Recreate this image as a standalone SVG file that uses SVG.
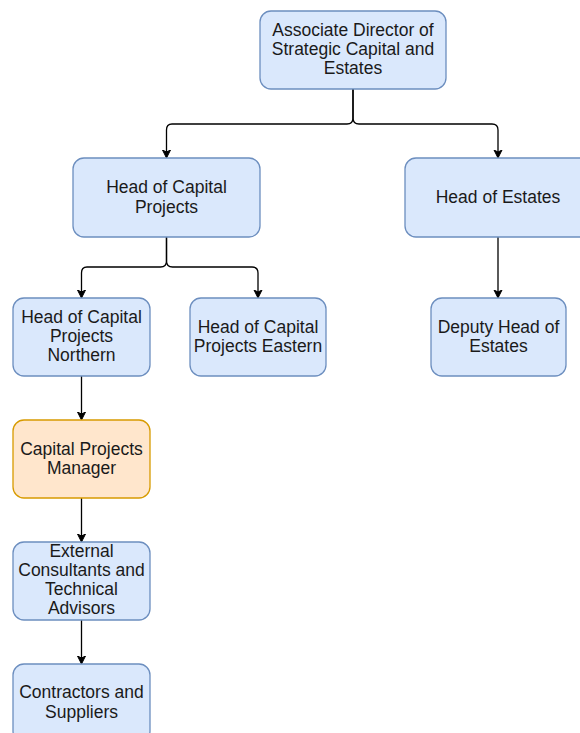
<svg xmlns="http://www.w3.org/2000/svg" width="580" height="733" viewBox="0 0 580 733">
<style>
.b{fill:#dae8fc;stroke:#6c8ebf;stroke-width:1.3}
.o{fill:#ffe6cc;stroke:#d79b00;stroke-width:1.3}
text{font-family:"Liberation Sans",Arial,sans-serif;font-size:17.5px;fill:#1a1a1a;text-anchor:middle}
.c path{fill:none;stroke:#000;stroke-width:1.3;marker-end:url(#a)}
</style>
<defs>
<marker id="a" markerWidth="10" markerHeight="10" refX="7" refY="5" orient="auto" markerUnits="userSpaceOnUse">
<path d="M0,1 L8,5 L0,9 L2,5 Z" fill="#000" stroke="#000" stroke-width="1"/>
</marker>
</defs>
<rect width="580" height="733" fill="#fff"/>
<g class="c" id="connectors">
<path d="M353 89 V118 Q353 124 347 124 H172 Q166.5 124 166.5 130 V157"/>
<path d="M353 89 V118 Q353 124 359 124 H492 Q498 124 498 130 V157"/>
<path d="M166.5 237 V261 Q166.5 267 160.5 267 H87 Q81.5 267 81.5 273 V297"/>
<path d="M166.5 237 V261 Q166.5 267 172.5 267 H252 Q258 267 258 273 V297"/>
<path d="M498 237 V297"/>
<path d="M81.5 376 V419"/>
<path d="M81.5 498 V541"/>
<path d="M81.5 620 V663"/>
</g>
<g id="n1"><rect class="b" x="260" y="11" width="186" height="78" rx="11"/>
<text x="353" y="36">Associate Director of</text><text x="353" y="55">Strategic Capital and</text><text x="353" y="74">Estates</text></g>
<g id="n2"><rect class="b" x="73" y="158" width="187" height="79" rx="11"/>
<text x="166.5" y="193">Head of Capital</text><text x="166.5" y="213">Projects</text></g>
<g id="n3"><rect class="b" x="405" y="158" width="186" height="79" rx="11"/>
<text x="498" y="203">Head of Estates</text></g>
<g id="n4"><rect class="b" x="13" y="298" width="137" height="78" rx="11"/>
<text x="81.5" y="323">Head of Capital</text><text x="81.5" y="342">Projects</text><text x="81.5" y="361">Northern</text></g>
<g id="n5"><rect class="b" x="190" y="298" width="136" height="78" rx="11"/>
<text x="258" y="333">Head of Capital</text><text x="258" y="352">Projects Eastern</text></g>
<g id="n6"><rect class="b" x="431" y="298" width="135" height="78" rx="11"/>
<text x="498.5" y="333">Deputy Head of</text><text x="498.5" y="352">Estates</text></g>
<g id="n7"><rect class="o" x="13" y="420" width="137" height="78" rx="11"/>
<text x="81.5" y="455">Capital Projects</text><text x="81.5" y="474">Manager</text></g>
<g id="n8"><rect class="b" x="13" y="542" width="137" height="78" rx="11"/>
<text x="81.5" y="557">External</text><text x="81.5" y="576">Consultants and</text><text x="81.5" y="595">Technical</text><text x="81.5" y="614">Advisors</text></g>
<g id="n9"><rect class="b" x="13" y="664" width="137" height="78" rx="11"/>
<text x="81.5" y="698">Contractors and</text><text x="81.5" y="718">Suppliers</text></g>
</svg>
